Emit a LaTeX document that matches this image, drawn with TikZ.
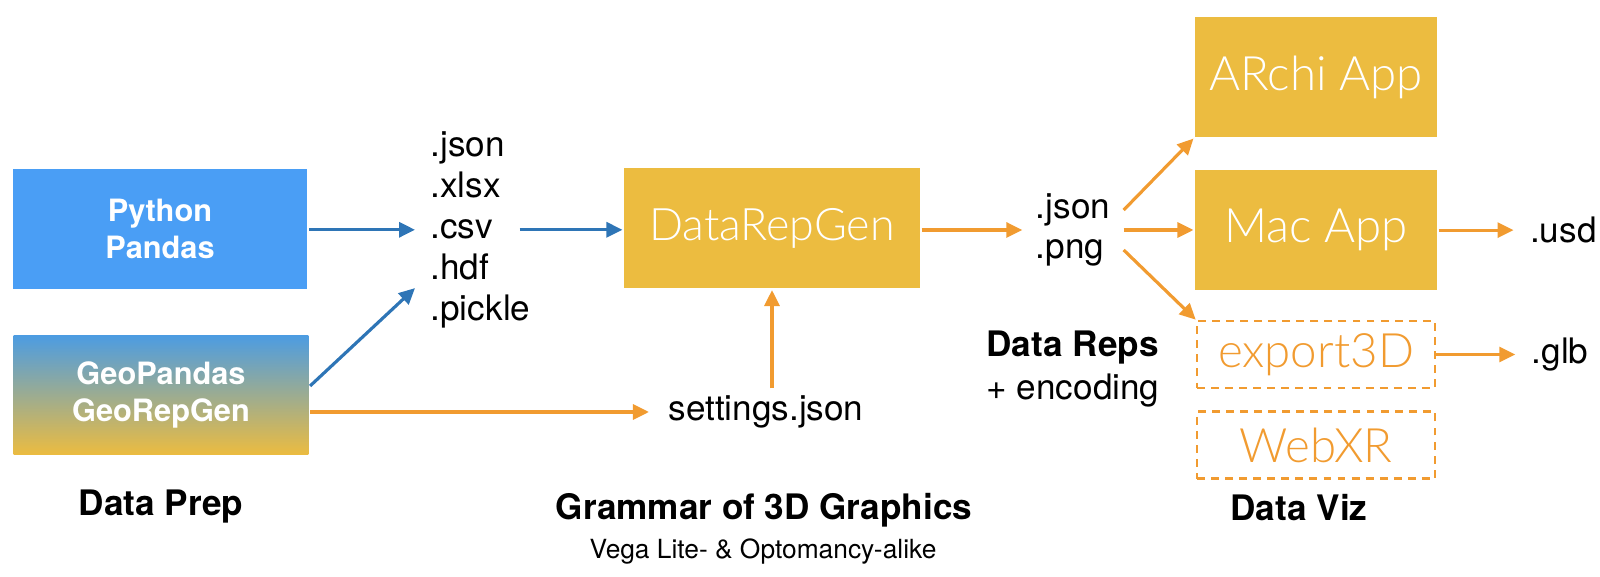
\documentclass[tikz,border=0pt]{standalone}
\usepackage{fontspec}
\setmainfont{TeX Gyre Heros}
\newfontfamily\lightfont{Lato Light}
\usetikzlibrary{arrows.meta,positioning,calc}

\definecolor{prepblue}{RGB}{74,158,245}
\definecolor{geoblue}{RGB}{76,156,226}
\definecolor{repyellow}{RGB}{236,188,64}
\definecolor{flowblue}{RGB}{46,117,182}
\definecolor{floworange}{RGB}{241,155,48}

\begin{document}
\begin{tikzpicture}[x=0.02cm,y=-0.02cm,>={Triangle[length=0.32cm,width=0.3cm]},
    line width=1.8pt,node distance=0.6cm,
    prep node/.style={rectangle,minimum width=5.9cm,minimum height=2.4cm,text=white,
      align=center,font=\fontsize{17.5}{21}\selectfont\bfseries},
    rep node/.style={rectangle,fill=repyellow,minimum width=4.84cm,minimum height=2.4cm,
      text=white,font=\fontsize{27}{32}\lightfont},
    out node/.style={rectangle,draw=floworange,line width=1.5pt,dash pattern=on 4.5pt off 3.5pt,
      minimum width=4.76cm,minimum height=1.34cm,text=floworange,font=\fontsize{27}{32}\lightfont},
    file/.style={anchor=base west,inner xsep=0.28cm,inner ysep=0pt,font=\fontsize{20}{24}\selectfont},
    ext/.style={inner xsep=0.3cm,font=\fontsize{20}{24}\selectfont},
    title/.style={font=\fontsize{20}{24}\selectfont\bfseries},
    blue flow/.style={->,draw=flowblue},
    orange flow/.style={->,draw=floworange}]

  \useasboundingbox (0,0) rectangle (1600,577);

  % data prep
  \node[prep node,fill=prepblue] (python) at (160,229) {Python\\Pandas};
  \node[prep node,top color=geoblue,bottom color=repyellow] (geo) at (161,395) {GeoPandas\\GeoRepGen};

  % file formats
  \foreach \ext [count=\i] in {json,xlsx,csv,hdf,pickle}
    \node[file] (f\ext) at (415,{116+41*\i}) {.\ext};

  % grammar
  \node[rep node,minimum width=5.92cm,minimum height=2.42cm,font=\fontsize{25.5}{30}\lightfont] (drg) at (772,228) {DataRepGen};
  \node[ext,inner xsep=0.36cm] (settings) at (766,412) {settings.json};

  % data reps
  \node[ext,align=left,inner xsep=0.24cm,font=\fontsize{20}{23}\selectfont] (reps) at (1073,230) {.json\\.png};

  % data viz
  \node[rep node] (archi) at (1316,77) {ARchi App};
  \node[rep node,below=of archi] (mac) {Mac App};
  \node[out node,below=0.56cm of mac] (export) {export3D};
  \node[out node,below=0.42cm of export] (webxr) {WebXR};
  \node[ext] (usd) [right=1.5cm of mac] {.usd};
  \node[ext] (glb) [right=1.58cm of export] {.glb};

  % labels
  \node[title,align=left] (replabel) at (1073,369) {Data Reps\\\mdseries+ encoding};
  \node[title] (preplabel) at (161,507) {Data Prep};
  \node[title] (gramlabel) at (764,510) {Grammar of 3D Graphics};
  \node[font=\fontsize{15}{18}\selectfont] (gramsub) at (763,552) {Vega Lite- \& Optomancy-alike};
  \node[title] (vizlabel) at (1299,508) {Data Viz};

  % connectors
  \draw[blue flow] (python.east |- fcsv.west) -- (fcsv.west);
  \draw[blue flow] ([yshift=0.18cm]geo.east) -- ([yshift=-0.12cm]fhdf.south west);
  \draw[blue flow,shorten <=0.22cm] (fcsv.east) -- (drg.west |- fcsv.east);
  \draw[orange flow] (geo.east |- settings.west) -- (settings.west);
  \draw[orange flow] (settings.north -| drg) -- (drg.south);
  \draw[orange flow] (drg.east |- reps.west) -- (reps.west);
  \draw[orange flow] ([yshift=0.4cm]reps.east) -- (archi.south west);
  \draw[orange flow] (reps.east) -- (reps.east -| mac.west);
  \draw[orange flow] ([yshift=-0.4cm]reps.east) -- (export.north west);
  \draw[orange flow] (mac) -- (usd);
  \draw[orange flow] (export) -- (glb);
\end{tikzpicture}
\end{document}
